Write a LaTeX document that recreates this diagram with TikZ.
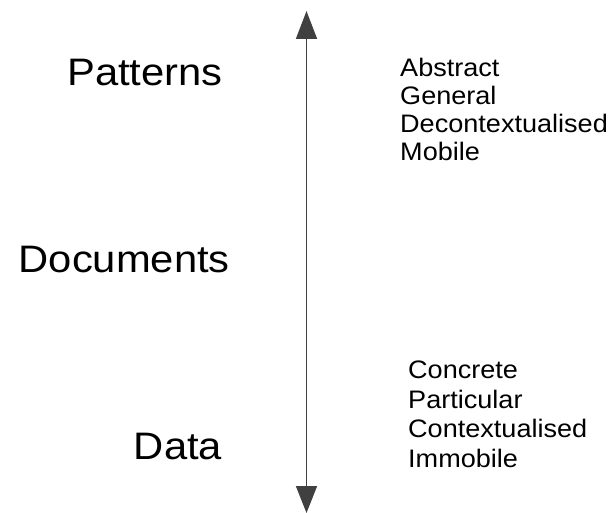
\documentclass[tikz,border=0pt]{standalone}
\usepackage{fontspec}
\usetikzlibrary{arrows.meta}
\newfontfamily\lblfont[FakeStretch=1.09]{Liberation Sans}
\newfontfamily\smfont[FakeStretch=1.07]{Liberation Sans}
\definecolor{arrowgray}{HTML}{404040}
\begin{document}
\begin{tikzpicture}[x=1pt,y=1pt,
  biglabel/.style={inner sep=0pt, anchor=base east, font=\lblfont\fontsize{38.3}{40}\selectfont, text=black},
  smalllabel/.style={inner sep=0pt, anchor=base west, font=\smfont\fontsize{25.3}{28}\selectfont, text=black},
  axis/.style={draw=arrowgray, line width=1.7pt, {Triangle[length=28pt,width=21pt]}-{Triangle[length=27pt,width=21pt]}}]
\useasboundingbox (0,0) rectangle (614,-513);
\coordinate (top) at (306.5,-11);
\coordinate (bot) at (306.5,-513);
\draw[axis, fill=arrowgray] (top) -- (bot);
\node[biglabel] (patterns) at (223,-86) {Patterns};
\node[biglabel] (documents) at (230,-272.7) {Documents};
\node[biglabel] (data) at (222.3,-459.3) {Data};
\node[smalllabel] (abstract) at (400,-77) {Abstract};
\node[smalllabel] (general) at (400,-105) {General};
\node[smalllabel] (decont) at (400,-133) {Decontextualised};
\node[smalllabel] (mobile) at (400,-161) {Mobile};
\node[smalllabel] (concrete) at (408,-379) {Concrete};
\node[smalllabel] (particular) at (408,-408.5) {Particular};
\node[smalllabel] (context) at (408,-438) {Contextualised};
\node[smalllabel] (immobile) at (408,-467.5) {Immobile};
\end{tikzpicture}
\end{document}
